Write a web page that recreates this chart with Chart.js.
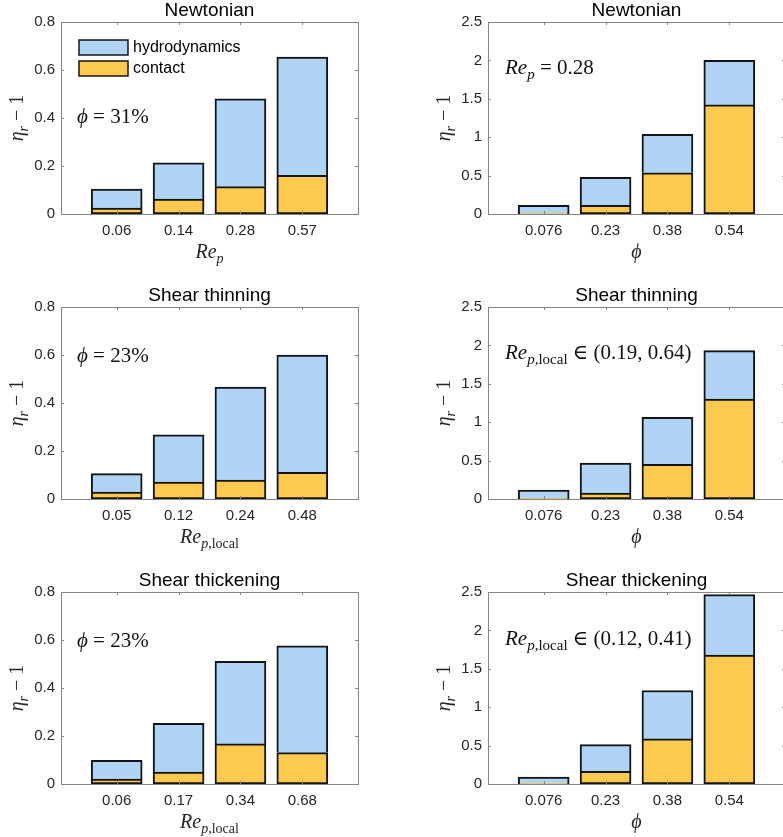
<!DOCTYPE html>
<html>
<head>
<meta charset="utf-8">
<script src="https://cdn.jsdelivr.net/npm/chart.js@4.4.1/dist/chart.umd.min.js"></script>
<style>
    html, body { margin: 0; padding: 0; background: #fff; overflow: hidden; }
    #wrap { position: relative; width: 783px; height: 837px; overflow: hidden; }
    #wrap canvas { position: absolute; }
</style>
</head>
<body>
<div id="wrap"></div>
<script>
// Categories (particle Reynolds numbers and volume fractions)
const newtReLabels = ["0.06", "0.14", "0.28", "0.57"];
const thinReLabels = ["0.05", "0.12", "0.24", "0.48"];
const thickReLabels = ["0.06", "0.17", "0.34", "0.68"];
const phiLabels = ["0.076", "0.23", "0.38", "0.54"];

// Contact and hydrodynamic contributions to eta_r - 1 (stacked)
const newtReContact = [0.025, 0.062, 0.114, 0.161];
const newtReHydro = [0.079, 0.151, 0.366, 0.493];
const newtPhiContact = [0.01, 0.113, 0.537, 1.42];
const newtPhiHydro = [0.103, 0.364, 0.499, 0.58];

const thinReContact = [0.029, 0.071, 0.079, 0.111];
const thinReHydro = [0.077, 0.196, 0.387, 0.489];
const thinPhiContact = [0.008, 0.078, 0.45, 1.302];
const thinPhiHydro = [0.109, 0.389, 0.614, 0.631];

const thickReContact = [0.021, 0.05, 0.167, 0.131];
const thickReHydro = [0.078, 0.203, 0.344, 0.445];
const thickPhiContact = [0.008, 0.165, 0.587, 1.678];
const thickPhiHydro = [0.083, 0.348, 0.63, 0.787];

// Axis tick settings
const reTicks = { max: 0.8, step: 0.2 };
const phiTicks = { max: 2.5, step: 0.5 };

const HYDRO_COLOR = "#afd4f5";
const CONTACT_COLOR = "#fdc94e";
const EDGE_COLOR = "#141414";
const FRAME_COLOR = "#858585";
const TEXT_COLOR = "#262626";

// math-style label pieces
const RE_P = [{ t: "Re", it: true }, { t: "p", it: true, sub: true }];
const RE_P_LOCAL = [{ t: "Re", it: true }, { t: "p", it: true, sub: true }, { t: ",local", sub: true }];
const PHI = [{ t: "ϕ", it: true }];
const ETA = [{ t: "η", it: true }, { t: "r", it: true, sub: true }, { t: " − 1" }];

function mathFont(s, size) {
    const px = s.sub ? Math.round(size * 0.7) : size;
    return (s.it ? "italic " : "") + px + 'px "Liberation Serif", "DejaVu Serif", serif';
}

// draws a list of text pieces on one baseline
function drawRich(ctx, segs, x, y, size, align) {
    let w = 0;
    segs.forEach(s => { ctx.font = mathFont(s, size); w += ctx.measureText(s.t).width; });
    let cx = align === "center" ? x - w / 2 : x;
    ctx.textAlign = "left";
    ctx.textBaseline = "alphabetic";
    segs.forEach(s => {
        ctx.font = mathFont(s, size);
        ctx.fillText(s.t, cx, y + (s.sub ? size * 0.24 : 0));
        cx += ctx.measureText(s.t).width;
    });
}

const panelDecor = {
    id: "panelDecor",
    beforeDatasetsDraw(chart) {
        const { ctx, chartArea: a } = chart;
        ctx.save();
        ctx.strokeStyle = FRAME_COLOR;
        ctx.lineWidth = 1;
        ctx.strokeRect(Math.round(a.left) + 0.5, Math.round(a.top) + 0.5,
            Math.round(a.right - a.left), Math.round(a.bottom - a.top));
        ctx.restore();
    },
    afterDatasetsDraw(chart) {
        // inward tick marks on all four sides
        const { ctx, chartArea: a, scales } = chart;
        const len = 3;
        ctx.save();
        ctx.strokeStyle = FRAME_COLOR;
        ctx.lineWidth = 1;
        ctx.beginPath();
        scales.x.ticks.forEach(t => {
            const px = Math.round(scales.x.getPixelForValue(t.value)) + 0.5;
            ctx.moveTo(px, a.bottom); ctx.lineTo(px, a.bottom - len);
            ctx.moveTo(px, a.top); ctx.lineTo(px, a.top + len);
        });
        scales.y.ticks.forEach(t => {
            const py = Math.round(scales.y.getPixelForValue(t.value)) + 0.5;
            ctx.moveTo(a.left, py); ctx.lineTo(a.left + len, py);
            ctx.moveTo(a.right, py); ctx.lineTo(a.right - len, py);
        });
        ctx.stroke();
        ctx.restore();
    },
    afterDraw(chart, args, opts) {
        const { ctx, chartArea: a } = chart;
        const midX = (a.left + a.right) / 2;
        ctx.save();

        // title
        ctx.fillStyle = "#000";
        ctx.font = '19px "Liberation Sans", Arial, sans-serif';
        ctx.textAlign = "center";
        ctx.textBaseline = "middle";
        ctx.fillText(opts.title, midX, 11);

        // axis titles
        ctx.fillStyle = TEXT_COLOR;
        drawRich(ctx, opts.xTitle, midX, 258, 20, "center");
        ctx.save();
        ctx.translate(a.left - 44, (a.top + a.bottom) / 2);
        ctx.rotate(-Math.PI / 2);
        drawRich(ctx, ETA, 0, 6, 20, "center");
        ctx.restore();

        // annotation
        ctx.fillStyle = "#111";
        drawRich(ctx, opts.note, opts.noteAt[0], opts.noteAt[1], 21, "left");

        // legend
        if (opts.legend) {
            const sets = chart.data.datasets.slice().reverse();
            sets.forEach((ds, i) => {
                const top = 40 + i * 21;
                ctx.fillStyle = ds.backgroundColor;
                ctx.fillRect(79, top, 49, 15);
                ctx.strokeStyle = EDGE_COLOR;
                ctx.lineWidth = 1.5;
                ctx.strokeRect(79, top, 49, 15);
                ctx.fillStyle = "#000";
                ctx.font = '16px "Liberation Sans", Arial, sans-serif';
                ctx.textAlign = "left";
                ctx.textBaseline = "middle";
                ctx.fillText(ds.label, 133, top + 8);
            });
        }
        ctx.restore();
    }
};

const rowTops = [0, 285, 570];
const rowHeights = [285, 285, 267];
const colLefts = [0, 392];
const colWidths = [392, 393];

const panels = [
    { row: 0, col: 0, title: "Newtonian", cats: newtReLabels, contact: newtReContact, hydro: newtReHydro,
      ticks: reTicks, xTitle: RE_P, note: [{ t: "ϕ", it: true }, { t: " = 31%" }], noteAt: [77, 123], legend: true },
    { row: 0, col: 1, title: "Newtonian", cats: phiLabels, contact: newtPhiContact, hydro: newtPhiHydro,
      ticks: phiTicks, xTitle: PHI, note: [{ t: "Re", it: true }, { t: "p", it: true, sub: true }, { t: " = 0.28" }], noteAt: [113, 74] },
    { row: 1, col: 0, title: "Shear thinning", cats: thinReLabels, contact: thinReContact, hydro: thinReHydro,
      ticks: reTicks, xTitle: RE_P_LOCAL, note: [{ t: "ϕ", it: true }, { t: " = 23%" }], noteAt: [77, 77] },
    { row: 1, col: 1, title: "Shear thinning", cats: phiLabels, contact: thinPhiContact, hydro: thinPhiHydro,
      ticks: phiTicks, xTitle: PHI, note: RE_P_LOCAL.concat([{ t: " ∈ (0.19, 0.64)" }]), noteAt: [113, 74] },
    { row: 2, col: 0, title: "Shear thickening", cats: thickReLabels, contact: thickReContact, hydro: thickReHydro,
      ticks: reTicks, xTitle: RE_P_LOCAL, note: [{ t: "ϕ", it: true }, { t: " = 23%" }], noteAt: [77, 77] },
    { row: 2, col: 1, title: "Shear thickening", cats: phiLabels, contact: thickPhiContact, hydro: thickPhiHydro,
      ticks: phiTicks, xTitle: PHI, note: RE_P_LOCAL.concat([{ t: " ∈ (0.12, 0.41)" }]), noteAt: [113, 75] }
];

const wrap = document.getElementById("wrap");

panels.forEach(p => {
    const canvas = document.createElement("canvas");
    const w = colWidths[p.col], h = rowHeights[p.row];
    canvas.width = w;
    canvas.height = h;
    canvas.style.width = w + "px";
    canvas.style.height = h + "px";
    canvas.style.left = colLefts[p.col] + "px";
    canvas.style.top = rowTops[p.row] + "px";
    wrap.appendChild(canvas);

    const yAxisWidth = p.col === 0 ? 61 : 96;
    const rightPad = p.col === 0 ? 34 : 0;
    const plotTop = 22, plotBottom = 214;

    new Chart(canvas.getContext("2d"), {
        type: "bar",
        data: {
            datasets: [
                {
                    label: "contact",
                    data: p.contact.map((v, i) => ({ x: i + 1, y: v })),
                    backgroundColor: CONTACT_COLOR,
                    borderColor: EDGE_COLOR,
                    borderWidth: 2,
                    borderSkipped: false,
                    barThickness: 51
                },
                {
                    label: "hydrodynamics",
                    data: p.hydro.map((v, i) => ({ x: i + 1, y: v })),
                    backgroundColor: HYDRO_COLOR,
                    borderColor: EDGE_COLOR,
                    borderWidth: 2,
                    borderSkipped: "start",
                    barThickness: 51
                }
            ]
        },
        options: {
            responsive: false,
            animation: false,
            devicePixelRatio: 1,
            layout: { padding: { left: 0, right: rightPad, top: plotTop, bottom: 0 } },
            scales: {
                x: {
                    type: "linear",
                    stacked: true,
                    offset: false,
                    min: 0.1,
                    max: 4.9,
                    grid: { display: false, drawTicks: false, offset: false },
                    border: { display: false },
                    afterBuildTicks: scale => { scale.ticks = p.cats.map((c, i) => ({ value: i + 1 })); },
                    afterFit: scale => { scale.height = h - plotBottom; },
                    ticks: {
                        padding: 8,
                        color: TEXT_COLOR,
                        font: { family: '"Liberation Sans", Arial, sans-serif', size: 15 },
                        callback: v => p.cats[v - 1]
                    }
                },
                y: {
                    stacked: true,
                    min: 0,
                    max: p.ticks.max,
                    grid: { display: false, drawTicks: false },
                    border: { display: false },
                    afterFit: scale => { scale.width = yAxisWidth; },
                    ticks: {
                        stepSize: p.ticks.step,
                        padding: 6,
                        color: TEXT_COLOR,
                        font: { family: '"Liberation Sans", Arial, sans-serif', size: 15 },
                        callback: v => String(Number(v.toFixed(2)))
                    }
                }
            },
            plugins: {
                legend: { display: false },
                tooltip: { enabled: false },
                panelDecor: {
                    title: p.title,
                    xTitle: p.xTitle,
                    note: p.note,
                    noteAt: p.noteAt,
                    legend: !!p.legend
                }
            }
        },
        plugins: [panelDecor]
    });
});
</script>
</body>
</html>
